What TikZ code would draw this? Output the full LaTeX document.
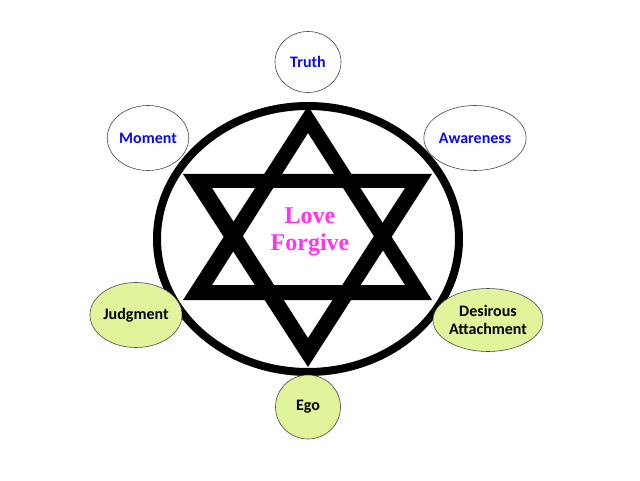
\documentclass[tikz,border=0pt]{standalone}
\usepackage{fontspec}
\setsansfont{Carlito}
\newfontfamily\corefont{Liberation Serif}
\usetikzlibrary{shapes.geometric}
\definecolor{leaf}{RGB}{224,245,155}
\definecolor{bluetxt}{RGB}{10,10,245}
\definecolor{pinktxt}{RGB}{255,51,240}
\definecolor{rim}{RGB}{70,70,70}
\tikzset{
  bubble/.style={ellipse, draw=rim, line width=0.6pt, inner sep=0pt,
    font=\sffamily\bfseries\fontsize{16}{16}\selectfont, align=center},
  topbubble/.style={bubble, fill=white, text=bluetxt},
  lowbubble/.style={bubble, fill=leaf, text=black},
}
\begin{document}
\begin{tikzpicture}[x=1pt,y=-1pt]
\useasboundingbox (0,0) rectangle (640,481);
\fill[white] (0,0) rectangle (640,481);
% ring
\draw[line width=8pt] (308,239) ellipse [x radius=151, y radius=133];
% star
\fill[black,even odd rule] (308,106) -- (183,300) -- (432,300) -- cycle
  (308,133) -- (212,285) -- (405,285) -- cycle;
\fill[black,even odd rule] (183,174) -- (432,174) -- (308,367) -- cycle
  (212,188) -- (405,188) -- (308,338) -- cycle;
% centre text
\node[text=pinktxt, font=\corefont\bfseries\fontsize{24}{27}\selectfont, align=center] (core) at (310,232) {Love\\Forgive};
% bubbles
\node[topbubble, minimum width=66, minimum height=61] (truth) at (308,62) {Truth};
\node[topbubble, minimum width=77, minimum height=65] (moment) at (148,138) {Moment};
\node[topbubble, minimum width=96, minimum height=65] (aware) at (475,138) {Awareness};
\node[lowbubble, minimum width=82, minimum height=65] (judg) at (136,315) {Judgment};
\node[lowbubble, minimum width=97, minimum height=63, font=\sffamily\bfseries\fontsize{16}{18}\selectfont] (desire) at (488,320) {Desirous\\Attachment};
\node[lowbubble, minimum width=65, minimum height=64] (ego) at (308,407) {Ego};
\end{tikzpicture}
\end{document}
